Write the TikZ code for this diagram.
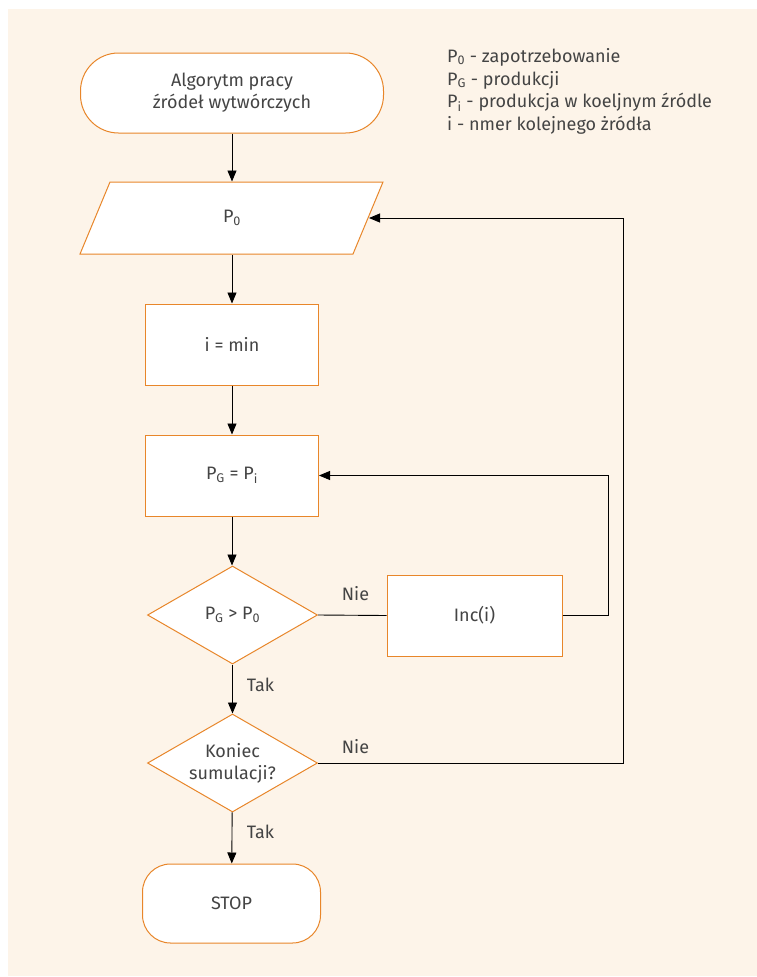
\documentclass[tikz,border=0pt]{standalone}
\usepackage{fontspec}
\setmainfont{Fira Sans}
\usepackage{xcolor}
\usetikzlibrary{shapes,arrows.meta,positioning}
\definecolor{frame}{HTML}{E8862A}
\definecolor{paper}{HTML}{FDF4E9}
\definecolor{ink}{HTML}{444444}

\begin{document}
\begin{tikzpicture}[x=1pt, y=-1pt,
    base/.style={draw=frame, fill=white, line width=1pt, text centered, align=center, text=ink, inner sep=0pt, font=\fontsize{18}{22}\selectfont},
    block/.style={base, rectangle, minimum width=173pt, minimum height=81pt},
    term/.style={base, rectangle},
    io/.style={base, rectangle, draw=none, fill=none, minimum width=273pt, minimum height=72pt},
    decision/.style={base, diamond, aspect=1.73, minimum width=170pt, minimum height=98pt},
    tag/.style={text=ink, inner sep=0pt, font=\fontsize{18}{22}\selectfont},
    arr/.style={-{Triangle[length=11pt,width=9pt]}, line width=0.9pt},
    link/.style={line width=0.9pt}
]
\fill[paper] (8,9) rectangle (757,976);
\useasboundingbox (0,0) rectangle (757,977);

\node[term, minimum width=303pt, minimum height=80pt, rounded corners=38pt] (start) at (232,93) {Algorytm pracy\\źródeł wytwórczych};
\filldraw[draw=frame, fill=white, line width=1pt] (110,182) -- (383,182) -- (353,254) -- (80,254) -- cycle;
\node[io] (input) at (232,218) {P\textsubscript{0}};
\node[block] (init) at (232,344.5) {i = min};
\node[block] (assign) at (232,475.5) {P\textsubscript{G} = P\textsubscript{i}};
\node[decision] (check) at (232.5,615) {P\textsubscript{G} > P\textsubscript{0}};
\node[block, minimum width=175pt] (inc) at (474.5,615.5) {Inc(i)};
\node[decision] (endsim) at (232.5,763) {Koniec\\sumulacji?};
\node[term, minimum width=178pt, minimum height=79pt, rounded corners=28pt] (stop) at (231.5,903.5) {STOP};

\node[tag, anchor=north west, align=left, font=\fontsize{18}{22.8}\selectfont] (legend) at (447,48) {P\textsubscript{0} - zapotrzebowanie\\P\textsubscript{G} - produkcji\\P\textsubscript{i} - produkcja w koeljnym źródle\\i - nmer kolejnego żródła};

\node[tag] (yes1) at (260.5,685) {Tak};
\node[tag] (yes2) at (260.5,832) {Tak};
\node[tag] (no1) at (355.5,594) {Nie};
\node[tag] (no2) at (355.5,747) {Nie};

\draw[arr] (start) -- (input.north);
\draw[arr] (input.south) -- (init);
\draw[arr] (init) -- (assign);
\draw[arr] (assign) -- (assign |- check.north);
\draw[arr] (check) -- (endsim);
\draw[arr] (endsim) -- (stop);
\draw[link] (check.east) -- (inc.west);
\draw[arr] (inc.east) -- ++(46,0) |- (assign.east);
\draw[arr] (endsim.east) -- ++(305,0) |- (input.east);
\end{tikzpicture}
\end{document}
